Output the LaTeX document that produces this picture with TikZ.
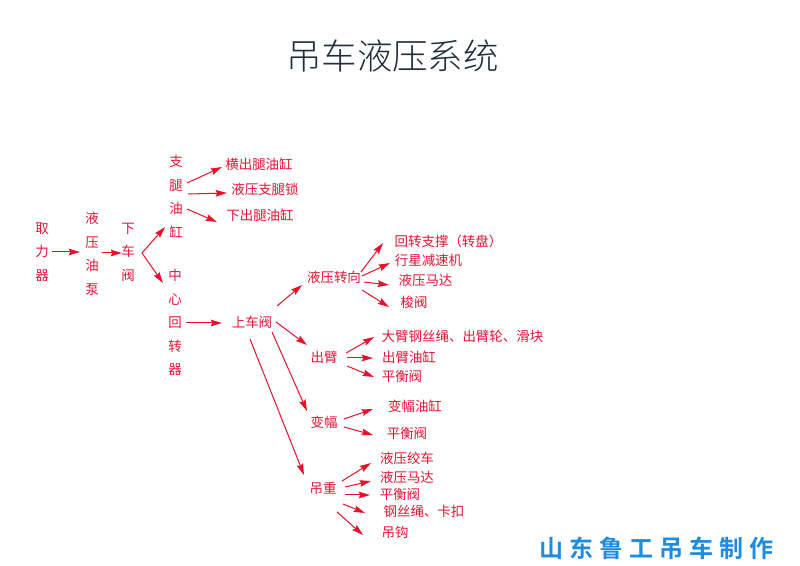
\documentclass[tikz,border=0pt]{standalone}
\usepackage{fontspec}
\usetikzlibrary{arrows.meta}
\setmainfont{Noto Sans CJK SC}
\newfontfamily\cjk{Noto Sans CJK SC}
\newfontfamily\cjkmark[LetterSpace=25]{Noto Sans CJK SC Bold}
\newfontfamily\cjktitle{Noto Sans CJK SC Light}
\definecolor{lab}{RGB}{232,18,50}
\definecolor{lin}{RGB}{234,16,40}
\definecolor{titlec}{RGB}{32,46,62}
\definecolor{markc}{RGB}{30,140,225}
\tikzset{
  lbl/.style={inner sep=0pt,text=lab,font=\cjk\fontsize{10.1}{12}\selectfont},
  vlbl/.style={inner sep=0pt,text=lab,align=center,font=\cjk\fontsize{10.1}{17.6}\selectfont},
  conn/.style={draw=lin,line width=0.75pt,-{Stealth[length=8.5pt,width=5pt,inset=1.2pt]}}
}
\newcommand\conn[6]{\draw[conn] ([shift={(#2,#3)}]#1.center) -- ([shift={(#5,#6)}]#4.center);}
\begin{document}
\begin{tikzpicture}[x=0.75pt,y=-0.75pt]
\useasboundingbox (0,0) rectangle (800,566);
\node[inner sep=0pt,text=titlec,font=\cjktitle\fontsize{26.6}{30}\selectfont] (title) at (392.5,56) {吊车液压系统};
\node[inner sep=0pt,text=markc,font=\cjkmark\fontsize{18}{22}\selectfont] (mark) at (656,548) {山东鲁工吊车制作};
\node[vlbl] (qu) at (42,252) {取\\力\\器};
\node[vlbl] (beng) at (92,254) {液\\压\\油\\泵};
\node[vlbl] (xia) at (128,252) {下\\车\\阀};
\node[vlbl] (zhi) at (176,196.5) {支\\腿\\油\\缸};
\node[vlbl] (zx) at (175,322.5) {中\\心\\回\\转\\器};
\node[lbl] (a1) at (259,164) {横出腿油缸};
\node[lbl] (a2) at (265,189) {液压支腿锁};
\node[lbl] (a3) at (260,215) {下出腿油缸};
\node[lbl] (up) at (252,322) {上车阀};
\node[lbl] (zhuan) at (334,277) {液压转向};
\node[lbl] (chu) at (324,357) {出臂};
\node[lbl] (bian) at (324,422) {变幅};
\node[lbl] (diao) at (323,488) {吊重};
\node[lbl] (b1) at (448.5,241) {回转支撑（转盘）};
\node[lbl] (b2) at (428.5,260) {行星减速机};
\node[lbl] (b3) at (425.5,280) {液压马达};
\node[lbl] (b4) at (414,302) {梭阀};
\node[lbl] (c1) at (462.5,336) {大臂钢丝绳、出臂轮、滑块};
\node[lbl] (c2) at (409,357) {出臂油缸};
\node[lbl] (c3) at (402,376) {平衡阀};
\node[lbl] (d1) at (415,406) {变幅油缸};
\node[lbl] (d2) at (407,433) {平衡阀};
\node[lbl] (e1) at (407,458) {液压绞车};
\node[lbl] (e2) at (407,477) {液压马达};
\node[lbl] (e3) at (400,494) {平衡阀};
\node[lbl] (e4) at (424,511) {钢丝绳、卡扣};
\node[lbl] (e5) at (395,532) {吊钩};
\conn{qu}{10}{0}{beng}{-12}{-2}
\conn{beng}{10}{-1}{xia}{-6}{1}
\conn{xia}{14}{1}{zhi}{-11}{30.5}
\conn{xia}{14}{1}{zx}{-12}{-39.5}
\conn{zhi}{11}{-13.5}{a1}{-37}{3}
\conn{zhi}{12}{-2.5}{a2}{-38}{4}
\conn{zhi}{11}{12.5}{a3}{-43}{7}
\conn{zx}{11}{0.5}{up}{-30}{1}
\conn{up}{25}{-16}{zhuan}{-32}{8}
\conn{up}{24}{0}{chu}{-17}{-12}
\conn{up}{20}{10}{bian}{-17}{-11}
\conn{up}{-2}{17}{diao}{-19}{-13}
\conn{zhuan}{27}{-5}{b1}{-65.5}{2}
\conn{zhuan}{28}{-1}{b2}{-38.5}{3}
\conn{zhuan}{30}{5}{b3}{-36.5}{5}
\conn{zhuan}{28}{13}{b4}{-25}{5}
\conn{chu}{22}{-4}{c1}{-88.5}{1}
\conn{chu}{23}{1}{c2}{-36}{1}
\conn{chu}{23}{9}{c3}{-28}{1}
\conn{bian}{20}{-3}{d1}{-42}{3}
\conn{bian}{20}{5}{d2}{-34}{2}
\conn{diao}{19}{-7}{e1}{-36}{5}
\conn{diao}{22}{-1}{e2}{-36}{4}
\conn{diao}{22}{7}{e3}{-30}{1}
\conn{diao}{20}{16}{e4}{-59}{2}
\conn{diao}{14}{24}{e5}{-32}{3}
\end{tikzpicture}
\end{document}
